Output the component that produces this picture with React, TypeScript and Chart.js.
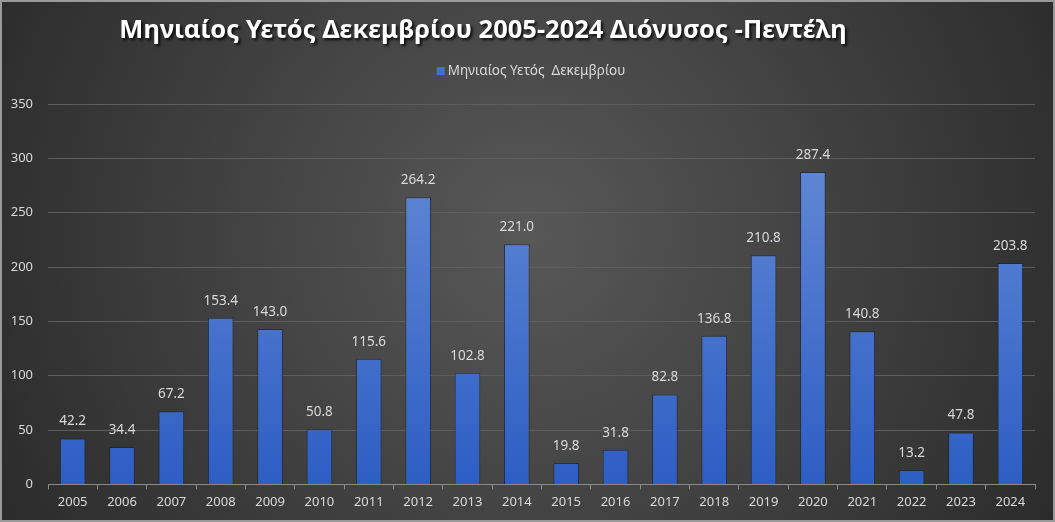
import React, { useEffect, useRef } from "react";
import { Chart, registerables } from "chart.js";

Chart.register(...registerables);

const years: string[] = ["2005","2006","2007","2008","2009","2010","2011","2012","2013","2014","2015","2016","2017","2018","2019","2020","2021","2022","2023","2024"];
const rainfall: number[] = [42.2,34.4,67.2,153.4,143.0,50.8,115.6,264.2,102.8,221.0,19.8,31.8,82.8,136.8,210.8,287.4,140.8,13.2,47.8,203.8];
const yTicks: number[] = [0,50,100,150,200,250,300,350];
const titleText = "Μηνιαίος Υετός Δεκεμβρίου 2005-2024 Διόνυσος -Πεντέλη";
const seriesName = "Μηνιαίος Υετός  Δεκεμβρίου";

const FONT = "'Noto Sans', 'Open Sans', sans-serif";

const bgPlugin = {
  id: "bg",
  beforeDraw(chart: any) {
    const { ctx, width, height } = chart;
    ctx.save();
    const g = ctx.createRadialGradient(width * 0.5, height * 0.45, 0, width * 0.5, height * 0.45, width * 0.62);
    g.addColorStop(0, "#585858");
    g.addColorStop(1, "#272727");
    ctx.fillStyle = g;
    ctx.fillRect(0, 0, width, height);
    ctx.strokeStyle = "#9a9a9a";
    ctx.lineWidth = 2;
    ctx.strokeRect(1, 1, width - 2, height - 2);
    ctx.restore();
  },
};

const textPlugin = {
  id: "texts",
  afterDraw(chart: any) {
    const { ctx } = chart;
    ctx.save();
    // title
    ctx.font = `bold 25.5px ${FONT}`;
    ctx.textAlign = "center";
    ctx.textBaseline = "middle";
    ctx.shadowColor = "rgba(0,0,0,0.85)";
    ctx.shadowOffsetX = 2;
    ctx.shadowOffsetY = 2;
    ctx.shadowBlur = 3;
    ctx.fillStyle = "#ffffff";
    ctx.fillText(titleText, 483, 31);
    ctx.shadowColor = "transparent";
    // legend
    ctx.font = `13.5px ${FONT}`;
    ctx.textAlign = "left";
    const tw = ctx.measureText(seriesName).width;
    const total = 8 + 3 + tw;
    const x0 = 531 - total / 2;
    ctx.fillStyle = "#3f6fd8";
    ctx.fillRect(x0, 67, 8, 8);
    ctx.fillStyle = "#d9d9d9";
    ctx.fillText(seriesName, x0 + 11, 71);
    ctx.restore();
  },
};

const labelPlugin = {
  id: "valueLabels",
  afterDatasetsDraw(chart: any) {
    const { ctx } = chart;
    const meta = chart.getDatasetMeta(0);
    ctx.save();
    ctx.font = `13.5px ${FONT}`;
    ctx.fillStyle = "#d9d9d9";
    ctx.textAlign = "center";
    ctx.textBaseline = "middle";
    meta.data.forEach((bar: any, i: number) => {
      ctx.fillText(rainfall[i].toFixed(1), bar.x, bar.y - 17);
    });
    ctx.restore();
  },
};

export default function App() {
  const ref = useRef<HTMLCanvasElement | null>(null);
  useEffect(() => {
    if (!ref.current) return;
    const chart = new Chart(ref.current, {
      type: "bar",
      data: {
        labels: years,
        datasets: [
          {
            label: seriesName,
            data: rainfall,
            backgroundColor: (c: any) => {
              const area = c.chart.chartArea;
              if (!area) return "#3f6fd0";
              const g = c.chart.ctx.createLinearGradient(0, area.top, 0, area.bottom);
              g.addColorStop(0, "#6a8fd8");
              g.addColorStop(1, "#2d5ec4");
              return g;
            },
            borderColor: "rgba(25,35,60,0.7)",
            borderWidth: 1,
            categoryPercentage: 1,
            barPercentage: 0.52,
          },
        ],
      },
      plugins: [bgPlugin, textPlugin, labelPlugin],
      options: {
        animation: false,
        responsive: false,
        maintainAspectRatio: false,
        layout: { padding: { top: 104, left: 0, right: 20, bottom: 7 } },
        plugins: {
          legend: { display: false },
          title: { display: false },
          tooltip: { enabled: false },
        },
        scales: {
          x: {
            grid: { drawOnChartArea: false, drawTicks: true, tickLength: 5, color: "#8a8a8a", offset: true },
            border: { display: true, color: "#8a8a8a" },
            ticks: { color: "#d9d9d9", font: { family: FONT, size: 13 }, padding: 5 },
          },
          y: {
            min: 0,
            max: 350,
            afterBuildTicks: (s: any) => {
              s.ticks = yTicks.map((v) => ({ value: v }));
            },
            afterFit: (s: any) => {
              s.width = 48;
            },
            grid: { color: "#5e5e5e", drawTicks: false },
            border: { display: false },
            ticks: { color: "#d9d9d9", font: { family: FONT, size: 13 }, padding: 15 },
          },
        },
      },
    });
    return () => chart.destroy();
  }, []);
  return (
    <div style={{ position: "fixed", left: 0, top: 0, width: 1055, height: 522 }}>
      <canvas ref={ref} width={1055} height={522} style={{ display: "block" }} />
    </div>
  );
}
